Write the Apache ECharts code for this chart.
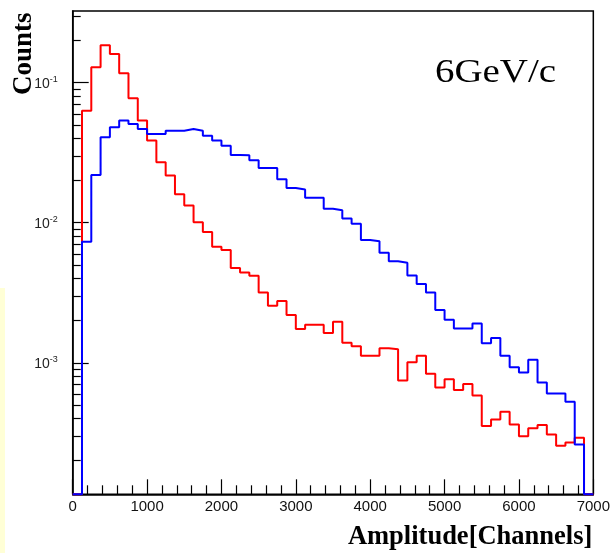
<!DOCTYPE html>
<html><head><meta charset="utf-8">
<script src="https://cdn.jsdelivr.net/npm/echarts@6/dist/echarts.min.js"></script>
<style>html,body{margin:0;padding:0;background:#fff}#c{width:613px;height:553px}</style>
</head><body><div id="c"></div>
<script>
// x axis: histogram binning and tick labels
const xMin = 0, xMax = 7000, binWidth = 125;
const xTickLabels = [0, 1000, 2000, 3000, 4000, 5000, 6000, 7000];
// y axis (log): range and ticks
const yMin = 1.15e-4, yMax = 0.325;
const yMajorTicks = [1e-3, 1e-2, 1e-1];
const yMinorTicks = [2e-4,3e-4,4e-4,5e-4,6e-4,7e-4,8e-4,9e-4,
                     2e-3,3e-3,4e-3,5e-3,6e-3,7e-3,8e-3,9e-3,
                     2e-2,3e-2,4e-2,5e-2,6e-2,7e-2,8e-2,9e-2,
                     0.2,0.3];
// bin contents (56 bins of 125 channels, 0 = empty bin)
const redCounts = [0, 0.0631, 0.1288, 0.185, 0.1604, 0.1167, 0.0774, 0.0536, 0.0386, 0.0270,
  0.0217, 0.0160, 0.0133, 0.01007, 0.00859, 0.00674, 0.00639, 0.00475, 0.00442, 0.00418,
  0.00317, 0.00255, 0.00276, 0.00219, 0.00174, 0.00187, 0.00187, 0.00163, 0.00196, 0.00139,
  0.00131, 0.00112, 0.00112, 0.00127, 0.00125, 0.000748, 0.001007, 0.00112, 0.000834, 0.000667,
  0.000762, 0.000638, 0.000705, 0.000583, 0.000353, 0.000394, 0.000447, 0.000363, 0.000299, 0.00034,
  0.000359, 0.000308, 0.000255, 0.00027, 0.000291, 0];
const blueCounts = [0, 0.00731, 0.0219, 0.0407, 0.048, 0.0536, 0.0507, 0.0467, 0.0430, 0.0430,
  0.0454, 0.0454, 0.0467, 0.0454, 0.0418, 0.0386, 0.0355, 0.0305, 0.0303, 0.0279,
  0.0246, 0.0246, 0.0204, 0.0177, 0.0173, 0.0151, 0.0151, 0.01259, 0.01227, 0.0107,
  0.00984, 0.00752, 0.00736, 0.00610, 0.00530, 0.00517, 0.0042, 0.00365, 0.00318, 0.00238,
  0.00203, 0.00176, 0.00176, 0.00191, 0.00138, 0.0015, 0.00112, 0.000927, 0.000853, 0.00105,
  0.000724, 0.000604, 0.000604, 0.000526, 0.000261, 0];
const xTitle = 'Amplitude[Channels]';
const yTitle = 'Counts';
const annotation = '6GeV/c';

function stepData(counts) {
  const pts = counts.map((v, i) => [xMin + i * binWidth, v > 0 ? v : yMin]);
  const last = counts[counts.length - 1];
  pts.push([xMin + counts.length * binWidth, last > 0 ? last : yMin]);
  return pts;
}

const chart = echarts.init(document.getElementById('c'), null, {renderer: 'canvas'});
const sansFont = '"Liberation Sans", Arial, sans-serif';
const serifFont = '"Liberation Serif", "Times New Roman", serif';
chart.setOption({
  animation: false,
  backgroundColor: '#fff',
  grid: {left: 72.7, right: 19, top: 11, bottom: 58.7, show: true, borderColor: '#000', borderWidth: 1.5, backgroundColor: 'transparent'},
  xAxis: {
    type: 'value', min: xMin, max: xMax, interval: 1000,
    name: xTitle, nameLocation: 'end', nameGap: 0,
    nameTextStyle: {fontFamily: serifFont, fontWeight: 'bold', fontSize: 26.5, color: '#000', align: 'right', verticalAlign: 'top', padding: [29, 1, 0, 0]},
    axisLine: {show: true, lineStyle: {color: '#000', width: 1.5}},
    axisTick: {show: true, inside: true, length: 15, lineStyle: {color: '#000', width: 1.2}},
    minorTick: {show: true, splitNumber: 5, length: 9, lineStyle: {color: '#000', width: 1.2}},
    axisLabel: {fontFamily: sansFont, fontSize: 15, color: '#111', margin: 5,
      formatter: v => (xTickLabels.indexOf(v) >= 0 ? String(v) : '')},
    splitLine: {show: false}
  },
  yAxis: [{
    type: 'log', logBase: 10, min: yMin, max: yMax,
    axisLine: {show: true, lineStyle: {color: '#000', width: 1.5}},
    axisTick: {show: true, inside: true, length: 16, customValues: yMajorTicks, lineStyle: {color: '#000', width: 1.2}},
    axisLabel: {
      customValues: yMajorTicks, margin: 15,
      formatter: v => '{b|10}{s|' + Math.round(Math.log10(v)) + '}',
      rich: {
        b: {fontFamily: sansFont, fontSize: 14, color: '#222', lineHeight: 16, verticalAlign: 'bottom'},
        s: {fontFamily: sansFont, fontSize: 9, color: '#222', lineHeight: 16, verticalAlign: 'top'}
      }
    },
    splitLine: {show: false}
  }, {
    type: 'log', logBase: 10, min: yMin, max: yMax, position: 'left',
    axisLine: {show: false},
    axisTick: {show: true, inside: true, length: 8, customValues: yMinorTicks, lineStyle: {color: '#000', width: 1.2}},
    axisLabel: {show: false},
    splitLine: {show: false}
  }],
  series: [{
    type: 'line', name: 'red', step: 'end', data: stepData(redCounts), yAxisIndex: 0,
    symbol: 'none', clip: false, lineStyle: {color: '#ff0000', width: 2}, z: 3
  }, {
    type: 'line', name: 'blue', step: 'end', data: stepData(blueCounts), yAxisIndex: 0,
    symbol: 'none', clip: false, lineStyle: {color: '#0000ff', width: 2}, z: 4
  }],
  graphic: [{
    type: 'rect', left: 0, top: 288, shape: {width: 5, height: 265}, style: {fill: '#ffffd6'}, silent: true
  }, {
    type: 'text', x: 24, y: 95, rotation: Math.PI / 2,
    style: {text: yTitle, font: 'bold 27px ' + serifFont, fill: '#000', align: 'left', verticalAlign: 'middle'}
  }, {
    type: 'text', x: 435, y: 73, scaleX: 1.18,
    style: {text: annotation, font: '33px ' + serifFont, fill: '#000', align: 'left', verticalAlign: 'middle'}
  }]
});
</script></body></html>
